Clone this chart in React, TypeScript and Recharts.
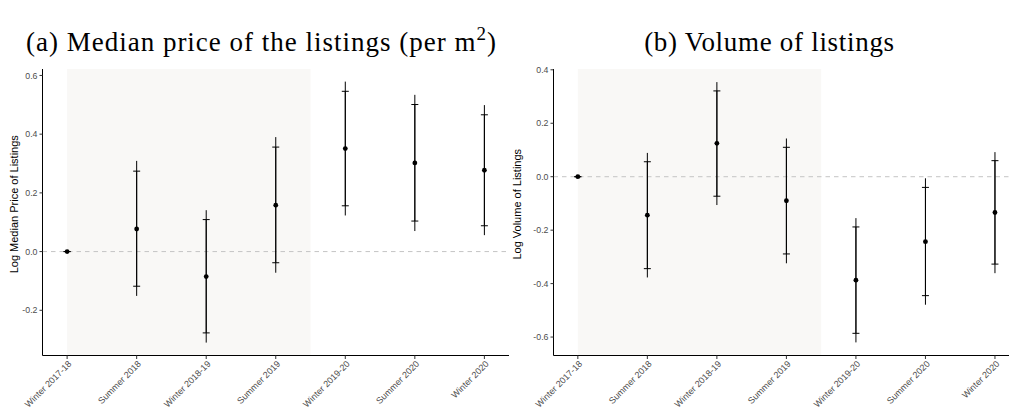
import React from "react";
import {
  ScatterChart,
  Scatter,
  XAxis,
  YAxis,
  ErrorBar,
  ReferenceArea,
  ReferenceLine,
} from "recharts";

const categories = [
  "Winter 2017-18",
  "Summer 2018",
  "Winter 2018-19",
  "Summer 2019",
  "Winter 2019-20",
  "Summer 2020",
  "Winter 2020",
];

const priceEst = [0, 0.077, -0.085, 0.158, 0.351, 0.302, 0.277];
const priceLo95 = [0, -0.118, -0.277, -0.038, 0.156, 0.104, 0.088];
const priceHi95 = [0, 0.274, 0.109, 0.356, 0.546, 0.501, 0.466];
const priceLo99 = [0, -0.151, -0.31, -0.072, 0.123, 0.07, 0.056];
const priceHi99 = [0, 0.309, 0.141, 0.39, 0.579, 0.534, 0.499];

const volumeEst = [0, -0.144, 0.125, -0.09, -0.387, -0.243, -0.134];
const volumeLo95 = [0, -0.344, -0.073, -0.289, -0.586, -0.445, -0.327];
const volumeHi95 = [0, 0.056, 0.321, 0.11, -0.188, -0.04, 0.06];
const volumeLo99 = [0, -0.377, -0.106, -0.324, -0.62, -0.479, -0.361];
const volumeHi99 = [0, 0.089, 0.354, 0.143, -0.155, -0.006, 0.092];

const priceTicks = [-0.2, 0, 0.2, 0.4, 0.6];
const volumeTicks = [-0.6, -0.4, -0.2, 0, 0.2, 0.4];
const xTicks = [0, 1, 2, 3, 4, 5, 6];

function build(est: number[], lo95: number[], hi95: number[], lo99: number[], hi99: number[]) {
  return categories.map((c, i) => ({
    x: i,
    y: est[i],
    inner: [est[i] - lo95[i], hi95[i] - est[i]],
    outer: [est[i] - lo99[i], hi99[i] - est[i]],
  }));
}

const priceData = build(priceEst, priceLo95, priceHi95, priceLo99, priceHi99);
const volumeData = build(volumeEst, volumeLo95, volumeHi95, volumeLo99, volumeHi99);

const SANS = "'Liberation Sans', Arial, Helvetica, sans-serif";

const XTick = (props: any) => {
  const { x, y, payload } = props;
  return (
    <g transform={`translate(${x + 5},${y + 3.5})`}>
      <text
        transform="rotate(-45)"
        textAnchor="end"
        fontFamily={SANS}
        fontSize={9}
        fill="#4d4d4d"
      >
        {categories[payload.value]}
      </text>
    </g>
  );
};

const fmt = (v: number) => (Math.abs(v) < 1e-9 ? "0.0" : v.toFixed(1));

const Dot = (p: any) => <circle cx={p.cx} cy={p.cy} r={2.4} fill="#000" />;

function Panel(props: {
  data: any[];
  domainY: [number, number];
  ticksY: number[];
  domainX: [number, number];
  yTitle: string;
  width: number;
  yAxisWidth: number;
  marginRight: number;
  titleOffset: number;
}) {
  const { data, domainY, ticksY, domainX, yTitle, width, yAxisWidth, marginRight, titleOffset } = props;
  return (
    <ScatterChart
      width={width}
      height={410}
      margin={{ top: 69, right: marginRight, bottom: 0, left: 0 }}
    >
      <ReferenceArea x1={0} x2={3.5} fill="#f9f8f6" fillOpacity={1} stroke="none" ifOverflow="visible" />
      <ReferenceLine y={0} stroke="#c4c4c4" strokeWidth={1} strokeDasharray="4.5 4" />
      <XAxis
        type="number"
        dataKey="x"
        domain={domainX}
        ticks={xTicks}
        interval={0}
        allowDataOverflow
        height={54.5}
        axisLine={{ stroke: "#000", strokeWidth: 1 }}
        tickLine={{ stroke: "#333", strokeWidth: 1 }}
        tickSize={3.5}
        tickMargin={2}
        tick={<XTick />}
      />
      <YAxis
        type="number"
        dataKey="y"
        domain={domainY}
        ticks={ticksY}
        allowDataOverflow
        width={yAxisWidth}
        axisLine={{ stroke: "#000", strokeWidth: 1 }}
        tickLine={{ stroke: "#333", strokeWidth: 1 }}
        tickSize={3}
        tickMargin={2}
        tickFormatter={fmt}
        tick={{ fontFamily: SANS, fontSize: 8.8, fill: "#4d4d4d" }}
        label={(lp: any) => {
          const vb = lp.viewBox || {};
          const cx = (vb.x || 0) + (vb.width || 0) - titleOffset;
          const cy = (vb.y || 0) + (vb.height || 0) / 2 - 8;
          return (
            <text
              x={cx}
              y={cy}
              transform={`rotate(-90, ${cx}, ${cy})`}
              textAnchor="middle"
              dominantBaseline="central"
              fontFamily={SANS}
              fontSize={11}
              fill="#000"
            >
              {yTitle}
            </text>
          );
        }}
      />
      <Scatter data={data} isAnimationActive={false} shape={<Dot />}>
        <ErrorBar dataKey="outer" direction="y" width={0} stroke="#000" strokeWidth={1} isAnimationActive={false} />
        <ErrorBar dataKey="inner" direction="y" width={3.5} stroke="#000" strokeWidth={1} isAnimationActive={false} />
      </Scatter>
    </ScatterChart>
  );
}

export default function App() {
  return (
    <div
      style={{
        position: "fixed",
        left: 0,
        top: 0,
        width: 1009,
        height: 410,
        overflow: "hidden",
        background: "#fff",
      }}
    >
      <svg width={1009} height={66} style={{ position: "absolute", left: 0, top: 0 }}>
        <text
          x={261.5}
          y={50.5}
          textAnchor="middle"
          fontFamily="'Liberation Serif', 'Times New Roman', serif"
          fontSize={27}
          letterSpacing={1}
          fill="#000"
        >
          (a) Median price of the listings (per m
          <tspan fontSize={19} dy={-11}>2</tspan>
          <tspan dy={11}>)</tspan>
        </text>
        <text
          x={769.5}
          y={50.5}
          textAnchor="middle"
          fontFamily="'Liberation Serif', 'Times New Roman', serif"
          fontSize={27}
          letterSpacing={0.7}
          fill="#000"
        >
          (b) Volume of listings
        </text>
      </svg>
      <div style={{ position: "absolute", left: 0, top: 0 }}>
        <Panel
          data={priceData}
          domainY={[-0.354, 0.622]}
          ticksY={priceTicks}
          domainX={[-0.354, 6.354]}
          yTitle="Log Median Price of Listings"
          width={520}
          yAxisWidth={42.5}
          marginRight={11}
          titleOffset={29}
        />
      </div>
      <div style={{ position: "absolute", left: 510, top: 0 }}>
        <Panel
          data={volumeData}
          domainY={[-0.669, 0.403]}
          ticksY={volumeTicks}
          domainX={[-0.35, 6.35]}
          yTitle="Log Volume of Listings"
          width={520}
          yAxisWidth={43.5}
          marginRight={10.7}
          titleOffset={37}
        />
      </div>
    </div>
  );
}
